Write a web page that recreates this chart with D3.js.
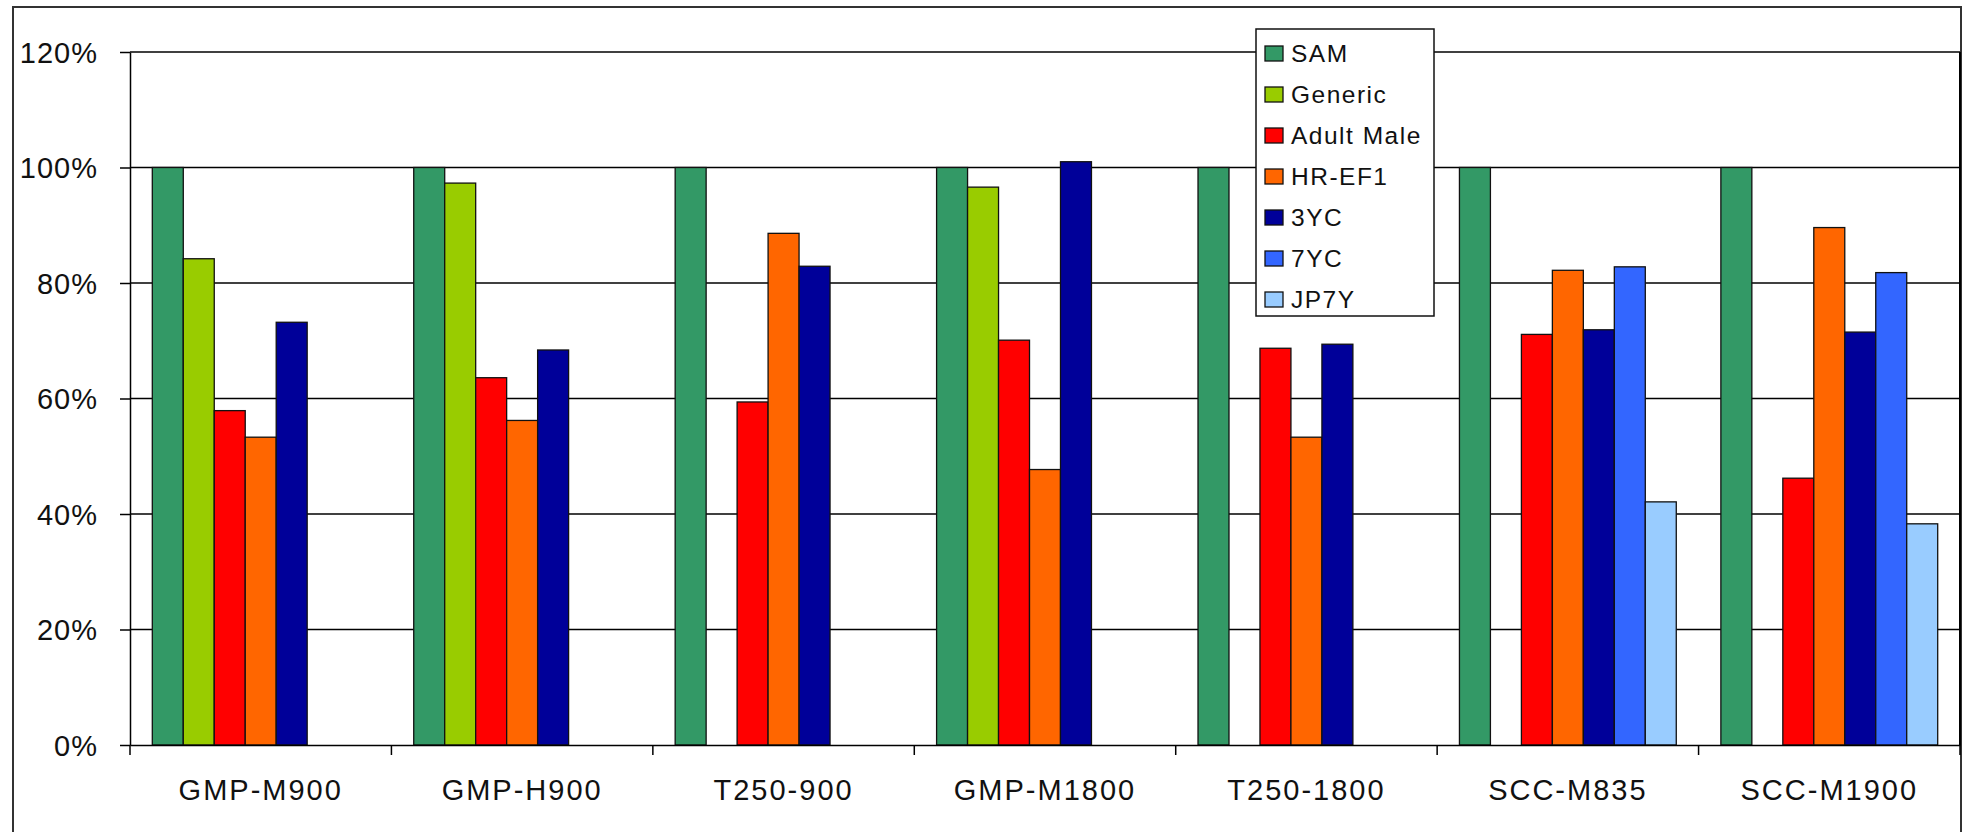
<!DOCTYPE html>
<html>
<head>
<meta charset="utf-8">
<script src="https://cdn.jsdelivr.net/npm/d3@7"></script>
<style>
  html, body { margin: 0; padding: 0; background: #fff; }
  svg text { font-family: "Liberation Sans", Arial, sans-serif; fill: #111; }
</style>
</head>
<body>
<svg id="chart" width="1963" height="832"></svg>
<script>
const categories = ["GMP-M900", "GMP-H900", "T250-900", "GMP-M1800", "T250-1800", "SCC-M835", "SCC-M1900"];
const seriesNames = ["SAM", "Generic", "Adult Male", "HR-EF1", "3YC", "7YC", "JP7Y"];
const seriesColors = ["#339966", "#99cc00", "#ff0000", "#ff6600", "#000099", "#3366ff", "#99ccff"];

const samValues = [100, 100, 100, 100, 100, 100, 100];
const genericValues = [84.2, 97.3, null, 96.6, null, null, null];
const adultMaleValues = [57.9, 63.6, 59.4, 70.1, 68.7, 71.1, 46.2];
const hrEf1Values = [53.3, 56.2, 88.6, 47.7, 53.3, 82.2, 89.6];
const yc3Values = [73.2, 68.4, 82.9, 101.0, 69.4, 71.9, 71.5];
const yc7Values = [null, null, null, null, null, 82.8, 81.8];
const jp7yValues = [null, null, null, null, null, 42.1, 38.3];

const yTicks = [0, 20, 40, 60, 80, 100, 120];

document.addEventListener("DOMContentLoaded", () => {
  const seriesValues = [samValues, genericValues, adultMaleValues, hrEf1Values, yc3Values, yc7Values, jp7yValues];

  // flatten into one row per bar, skipping the empty slots
  const bars = [];
  seriesNames.forEach((name, i) => {
    seriesValues[i].forEach((v, j) => {
      if (v !== null) bars.push({ series: name, category: categories[j], value: v, color: seriesColors[i] });
    });
  });

  const svg = d3.select("#chart");

  const margin = { top: 52, left: 130, right: 3, bottom: 87 };
  const width = 1963 - margin.left - margin.right;
  const height = 832 - margin.top - margin.bottom;

  // outer frame
  svg.append("rect")
    .attr("x", 13)
    .attr("y", 7)
    .attr("width", 1948)
    .attr("height", 840)
    .attr("fill", "#fff")
    .attr("stroke", "#333")
    .attr("stroke-width", 2);

  const g = svg.append("g")
    .attr("transform", `translate(${margin.left},${margin.top})`);

  const x0 = d3.scaleBand()
    .domain(categories)
    .range([0, width])
    .padding(0);

  const x1 = d3.scaleBand()
    .domain(seriesNames)
    .range([0, x0.bandwidth()])
    .paddingInner(0)
    .paddingOuter(0.72);

  const y = d3.scaleLinear()
    .domain([0, 120])
    .range([height, 0]);

  // horizontal gridlines
  g.selectAll(".grid")
    .data(yTicks.filter(t => t > 0))
    .enter()
    .append("line")
    .attr("class", "grid")
    .attr("x1", 0)
    .attr("x2", width)
    .attr("y1", d => y(d))
    .attr("y2", d => y(d))
    .attr("stroke", "#000")
    .attr("stroke-width", 1.5);

  // plot right edge
  g.append("line")
    .attr("x1", width)
    .attr("x2", width)
    .attr("y1", 0)
    .attr("y2", height)
    .attr("stroke", "#000")
    .attr("stroke-width", 2);

  g.selectAll(".bar")
    .data(bars)
    .enter()
    .append("rect")
    .attr("class", "bar")
    .attr("x", d => x0(d.category) + x1(d.series))
    .attr("y", d => y(d.value))
    .attr("width", x1.bandwidth())
    .attr("height", d => y(0) - y(d.value))
    .attr("fill", d => d.color)
    .attr("stroke", "#111")
    .attr("stroke-width", 1.3);

  const yAxis = g.append("g")
    .call(d3.axisLeft(y).tickValues(yTicks).tickFormat(d => d + "%").tickSizeInner(10).tickSizeOuter(0).tickPadding(22));
  yAxis.select(".domain").attr("stroke", "#000").attr("stroke-width", 1.5);
  yAxis.selectAll(".tick line").attr("stroke", "#000").attr("stroke-width", 1.5);
  yAxis.selectAll("text")
    .style("font-size", "29px")
    .style("letter-spacing", "1px")
    .attr("dy", "0.36em");

  const xAxis = g.append("g")
    .attr("transform", `translate(0,${height})`)
    .call(d3.axisBottom(x0).tickSize(0).tickPadding(0));
  xAxis.select(".domain").attr("stroke", "#000").attr("stroke-width", 1.5);
  xAxis.selectAll("text")
    .attr("y", 55)
    .attr("dy", null)
    .style("font-size", "29px")
    .style("letter-spacing", "2px");

  // category boundary ticks
  g.selectAll(".cat-tick")
    .data(categories.concat([null]))
    .enter()
    .append("line")
    .attr("class", "cat-tick")
    .attr("x1", d => d === null ? width : x0(d))
    .attr("x2", d => d === null ? width : x0(d))
    .attr("y1", height)
    .attr("y2", height + 10)
    .attr("stroke", "#000")
    .attr("stroke-width", 1.5);

  // legend
  const legend = svg.append("g")
    .attr("transform", "translate(1256,29)");

  legend.append("rect")
    .attr("width", 178)
    .attr("height", 287)
    .attr("fill", "#fff")
    .attr("stroke", "#111")
    .attr("stroke-width", 1.5);

  const legendRow = d3.scaleBand()
    .domain(seriesNames)
    .range([4, 291]);

  const items = legend.selectAll(".legend-item")
    .data(seriesNames)
    .enter()
    .append("g")
    .attr("class", "legend-item")
    .attr("transform", d => `translate(0,${legendRow(d) + legendRow.bandwidth() / 2})`);

  items.append("rect")
    .attr("x", 9)
    .attr("y", -7.5)
    .attr("width", 18)
    .attr("height", 15)
    .attr("fill", (d, i) => seriesColors[i])
    .attr("stroke", "#111")
    .attr("stroke-width", 1.3);

  items.append("text")
    .attr("x", 35)
    .attr("dy", "0.36em")
    .style("font-size", "24.5px")
    .style("letter-spacing", "1.5px")
    .text(d => d);
});
</script>
</body>
</html>
